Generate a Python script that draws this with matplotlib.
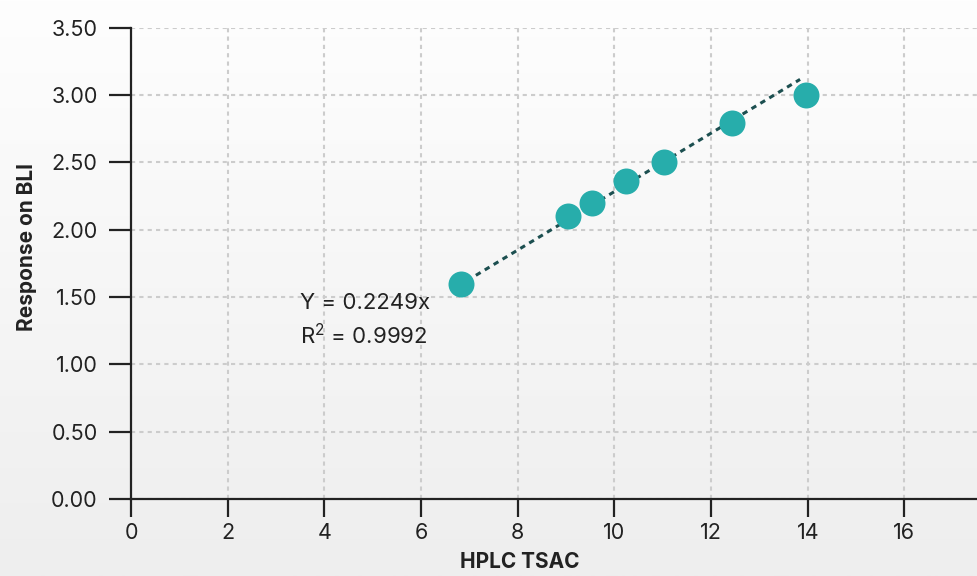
import matplotlib.pyplot as plt
import numpy as np

plt.rcParams['font.family'] = ['Inter', 'DejaVu Sans']
plt.rcParams['mathtext.fontset'] = 'custom'
plt.rcParams['mathtext.rm'] = 'Inter'

# data
hplc_tsac = [6.82, 9.03, 9.53, 10.24, 11.03, 12.44, 13.96]
response_bli = [1.60, 2.10, 2.20, 2.36, 2.50, 2.79, 3.00]

# trend line as drawn on the chart
trend_slope = 0.217
trend_intercept = 0.113
trend_x = [6.95, 13.84]

eq_text = "Y = 0.2249x"
r2_text = r"R$^{\mathregular{2}}$ = 0.9992"

x_ticks = [0, 2, 4, 6, 8, 10, 12, 14, 16]
y_ticks = [0.0, 0.5, 1.0, 1.5, 2.0, 2.5, 3.0, 3.5]

teal = '#27adab'
dark = '#222222'

fig = plt.figure(figsize=(9.77, 5.76), dpi=100)

# soft vertical gradient behind everything
bg = fig.add_axes([0, 0, 1, 1], zorder=-1)
grad = np.linspace(0, 1, 256).reshape(-1, 1)
bg.imshow(grad, aspect='auto', cmap=plt.matplotlib.colors.LinearSegmentedColormap.from_list(
    'bg', ['#fefefe', '#eeeeee']), extent=[0, 1, 0, 1], origin='upper')
bg.axis('off')

ax = fig.add_axes([0.1341, 0.1337, 0.8659, 0.8182])
ax.patch.set_alpha(0)

ax.set_xlim(0, 17.5)
ax.set_ylim(0, 3.5)

ax.grid(True, color='#cccccc', linestyle=(0, (2, 2)), linewidth=1.5)
ax.set_axisbelow(True)

tx = np.array(trend_x)
ax.plot(tx, trend_slope * tx + trend_intercept, color='#1c4f50', linewidth=2.2,
        linestyle=(0, (1.8, 1.6)), zorder=2)
ax.scatter(hplc_tsac, response_bli, s=350, color=teal, zorder=3, linewidths=0)

ax.text(3.49, 1.455, eq_text, fontsize=16, color=dark, va='center')
ax.text(3.49, 1.215, r2_text, fontsize=16, color=dark, va='center')

ax.set_xticks(x_ticks)
ax.set_yticks(y_ticks)
ax.set_yticklabels([f"{v:.2f}" for v in y_ticks])

for s in ['top', 'right']:
    ax.spines[s].set_visible(False)
for s in ['left', 'bottom']:
    ax.spines[s].set_color(dark)
    ax.spines[s].set_linewidth(1.6)

ax.tick_params(axis='y', direction='out', length=16, width=1.6, color=dark,
               pad=8, labelsize=15.5, labelcolor=dark)
ax.tick_params(axis='x', direction='out', length=13, width=1.6, color=dark,
               pad=4, labelsize=15.5, labelcolor=dark)

ax.set_xlabel("HPLC TSAC", fontsize=15, fontweight='bold', color=dark)
ax.set_ylabel("Response on BLI", fontsize=15, fontweight='bold', color=dark)
ax.xaxis.set_label_coords(0.46, -0.113)
ax.yaxis.set_label_coords(-0.111, 0.535)

plt.savefig('out.png', dpi=100)
